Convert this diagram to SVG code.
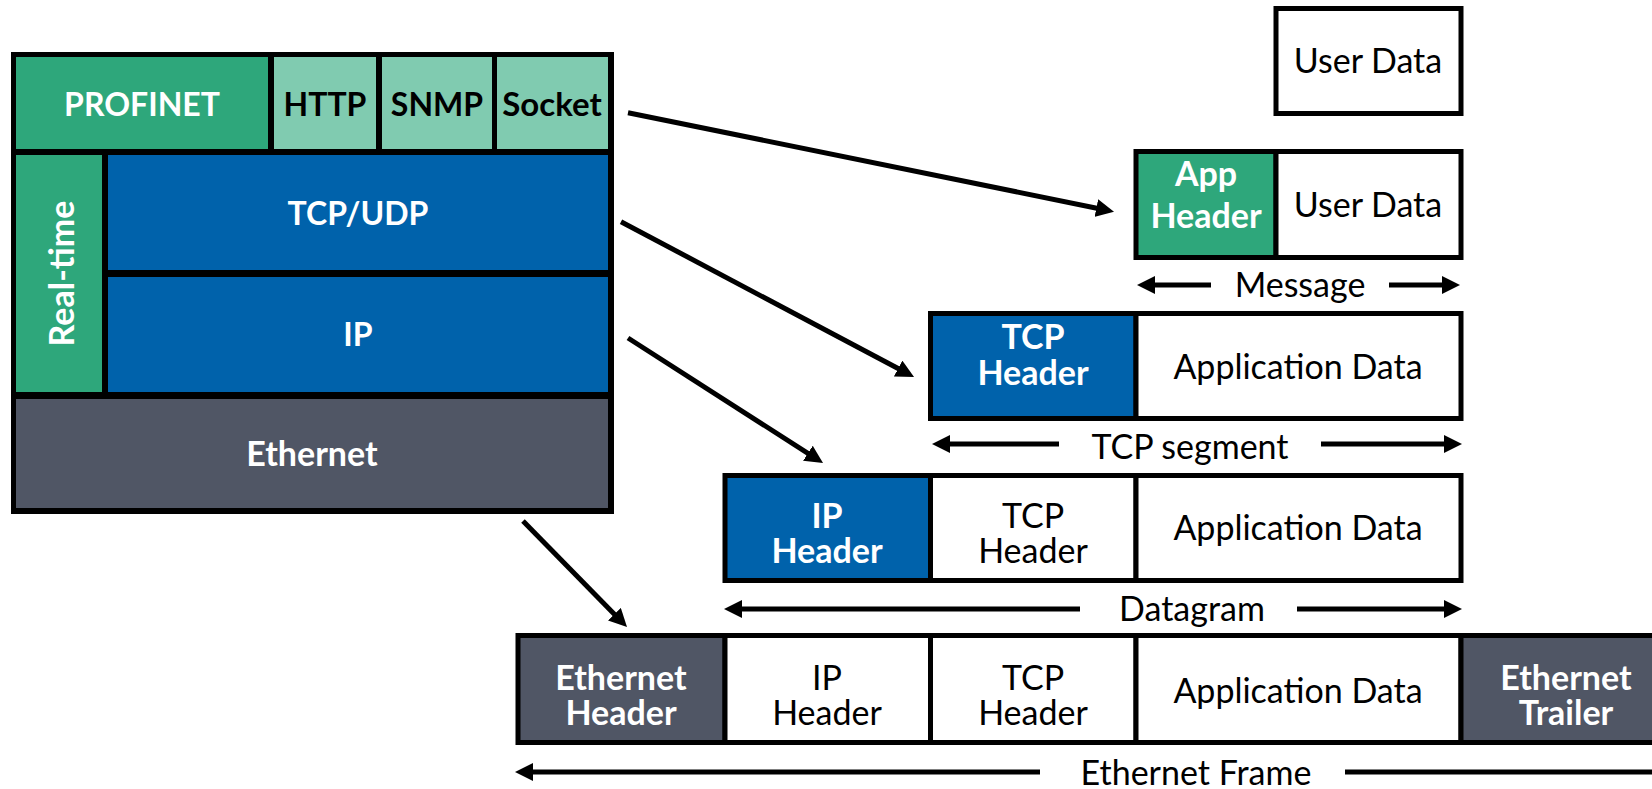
<svg xmlns="http://www.w3.org/2000/svg" width="1652" height="789" viewBox="0 0 1652 789">
<style>
text{font-family:Lato,"Liberation Sans",sans-serif;font-size:34px;text-anchor:middle}
.cap{font-size:32px}
.b{font-weight:bold}
.w{fill:#ffffff}
.k{fill:#000000}
.cell{stroke:#000;stroke-width:5}
.ln{stroke:#000;stroke-width:5;fill:none}
.arr{marker-end:url(#ah)}
</style>
<defs>
<marker id="ah" markerUnits="userSpaceOnUse" markerWidth="18" markerHeight="18" refX="8" refY="9" orient="auto">
<path d="M0,0 L18,9 L0,18 z" fill="#000"/>
</marker>
</defs>
<rect width="1652" height="789" fill="#fff"/>

<g id="stack">
<rect x="11" y="52" width="603" height="462" fill="#000"/>
</g>
<g id="profinet">
<rect x="16" y="57" width="252" height="92" fill="#2EA77B"/>
<text class="b w cap" x="142" y="116">PROFINET</text>
</g>
<g id="http">
<rect x="274" y="57" width="102" height="92" fill="#80CBB0"/>
<text class="b k cap" x="325" y="116">HTTP</text>
</g>
<g id="snmp">
<rect x="382" y="57" width="110" height="92" fill="#80CBB0"/>
<text class="b k cap" x="437" y="116">SNMP</text>
</g>
<g id="socket">
<rect x="497" y="57" width="111" height="92" fill="#80CBB0"/>
<text class="b k" x="552" y="116" style="font-size:33px">Socket</text>
</g>
<g id="realtime">
<rect x="16" y="155" width="86" height="237" fill="#2EA77B"/>
<text class="b w" transform="translate(74,273.5) rotate(-90)">Real-time</text>
</g>
<g id="tcpudp">
<rect x="108" y="155" width="500" height="115" fill="#0062AB"/>
<text class="b w cap" x="358" y="225">TCP/UDP</text>
</g>
<g id="ip">
<rect x="108" y="277" width="500" height="115" fill="#0062AB"/>
<text class="b w cap" x="358" y="346">IP</text>
</g>
<g id="ethernet">
<rect x="16" y="399" width="592" height="109" fill="#505665"/>
<text class="b w" x="312" y="466">Ethernet</text>
</g>

<g id="row-userdata">
<rect class="cell" x="1276" y="8.5" width="185" height="105" fill="#fff"/>
<text class="k" x="1368" y="73">User Data</text>
</g>
<g id="row-message">
<rect class="cell" x="1136" y="151.5" width="140" height="106" fill="#2EA77B"/>
<rect class="cell" x="1276" y="151.5" width="185" height="106" fill="#fff"/>
<text class="b w"><tspan x="1206" y="186">App</tspan><tspan x="1206" y="228">Header</tspan></text>
<text class="k" x="1368" y="217">User Data</text>
</g>
<g id="row-segment">
<rect class="cell" x="930.5" y="313.5" width="205.5" height="105" fill="#0062AB"/>
<rect class="cell" x="1136" y="313.5" width="325" height="105" fill="#fff"/>
<text class="b w"><tspan x="1033" y="349">TCP</tspan><tspan x="1033" y="385">Header</tspan></text>
<text class="k" x="1298" y="379">Application Data</text>
</g>
<g id="row-datagram">
<rect class="cell" x="725" y="475.5" width="205.5" height="105" fill="#0062AB"/>
<rect class="cell" x="930.5" y="475.5" width="205.5" height="105" fill="#fff"/>
<rect class="cell" x="1136" y="475.5" width="325" height="105" fill="#fff"/>
<text class="b w"><tspan x="827" y="528">IP</tspan><tspan x="827" y="563">Header</tspan></text>
<text class="k"><tspan x="1033" y="528">TCP</tspan><tspan x="1033" y="563">Header</tspan></text>
<text class="k" x="1298" y="540">Application Data</text>
</g>
<g id="row-frame">
<rect class="cell" x="518" y="635.5" width="207" height="107" fill="#505665"/>
<rect class="cell" x="725" y="635.5" width="205.5" height="107" fill="#fff"/>
<rect class="cell" x="930.5" y="635.5" width="205.5" height="107" fill="#fff"/>
<rect class="cell" x="1136" y="635.5" width="325" height="107" fill="#fff"/>
<rect class="cell" x="1461" y="635.5" width="220" height="107" fill="#505665"/>
<text class="b w"><tspan x="621" y="690">Ethernet</tspan><tspan x="621" y="725">Header</tspan></text>
<text class="k"><tspan x="827" y="690">IP</tspan><tspan x="827" y="725">Header</tspan></text>
<text class="k"><tspan x="1033" y="690">TCP</tspan><tspan x="1033" y="725">Header</tspan></text>
<text class="k" x="1298" y="703">Application Data</text>
<text class="b w"><tspan x="1566" y="690">Ethernet</tspan><tspan x="1566" y="725">Trailer</tspan></text>
</g>

<g id="labels">
<text class="k" x="1300" y="297">Message</text>
<text class="k" x="1190" y="459">TCP segment</text>
<text class="k" x="1192" y="621">Datagram</text>
<text class="k" x="1196" y="785">Ethernet Frame</text>
</g>

<g id="connectors">
<line class="ln arr" x1="628" y1="112.7" x2="1104.2" y2="209.7"/>
<line class="ln arr" x1="621" y1="221.7" x2="905.2" y2="372.3"/>
<line class="ln arr" x1="628" y1="338" x2="814.6" y2="457.6"/>
<line class="ln arr" x1="523" y1="521" x2="620" y2="619.9"/>
<line class="ln arr" x1="1211" y1="285" x2="1147" y2="285"/>
<line class="ln arr" x1="1389" y1="285" x2="1450" y2="285"/>
<line class="ln arr" x1="1059" y1="444" x2="942" y2="444"/>
<line class="ln arr" x1="1321" y1="444" x2="1452" y2="444"/>
<line class="ln arr" x1="1080" y1="609" x2="734" y2="609"/>
<line class="ln arr" x1="1297" y1="609" x2="1452" y2="609"/>
<line class="ln arr" x1="1040" y1="772" x2="525" y2="772"/>
<line class="ln" x1="1345" y1="772" x2="1660" y2="772"/>
</g>
</svg>
